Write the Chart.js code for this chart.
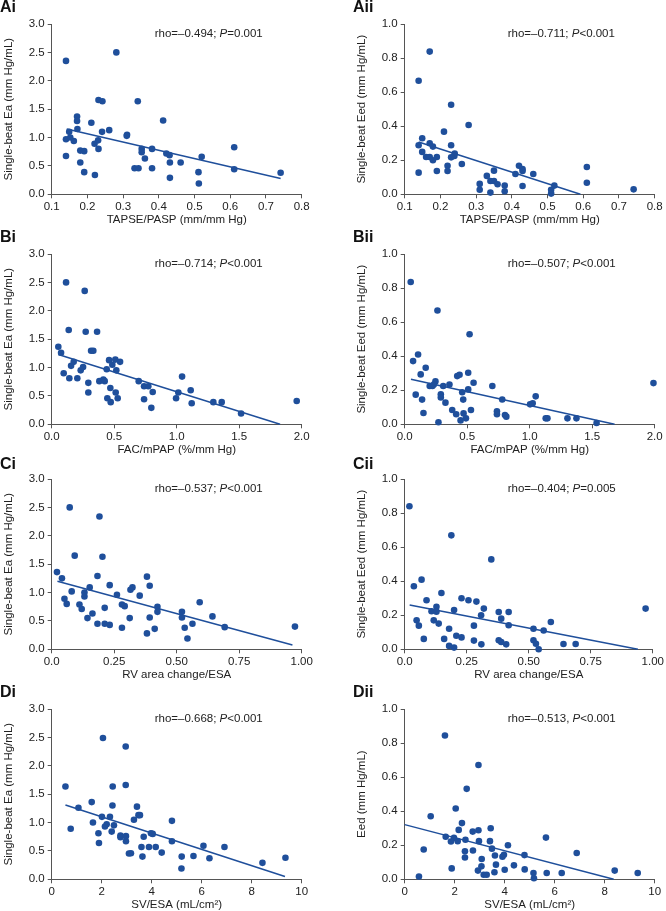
<!DOCTYPE html>
<html>
<head>
<meta charset="utf-8">
<script src="https://cdn.jsdelivr.net/npm/chart.js@4.4.0/dist/chart.umd.min.js"></script>
<style>
  body { margin: 0; background: #fff; width: 666px; height: 911px; overflow: hidden; position: relative; font-family: "Liberation Sans", Arial, sans-serif; }
  canvas { position: absolute; }
  .tag { position: absolute; font-weight: bold; font-size: 16px; line-height: 16px; color: #111; }
</style>
</head>
<body>
<script>
// Ai: TAPSE/PASP vs single-beat Ea
const aiX = [0.14, 0.281, 0.14, 0.14, 0.149, 0.152, 0.162, 0.171, 0.171, 0.172, 0.18, 0.18, 0.191, 0.191, 0.211, 0.22, 0.221, 0.231, 0.242, 0.23, 0.231, 0.241, 0.261, 0.311, 0.31, 0.341, 0.332, 0.343, 0.352, 0.352, 0.361, 0.381, 0.381, 0.412, 0.421, 0.43, 0.431, 0.431, 0.461, 0.511, 0.512, 0.52, 0.611, 0.611, 0.741];
const aiY = [2.35, 2.50, 0.97, 0.675, 1.10, 1.00, 0.94, 1.37, 1.29, 1.15, 0.77, 0.56, 0.76, 0.39, 1.26, 0.89, 0.34, 1.66, 1.64, 0.95, 0.80, 1.10, 1.13, 1.05, 1.03, 1.64, 0.46, 0.46, 0.80, 0.74, 0.63, 0.80, 0.46, 1.30, 0.72, 0.69, 0.56, 0.29, 0.56, 0.39, 0.19, 0.66, 0.83, 0.44, 0.38];
const aiFitX = [0.142, 0.741];
const aiFitY = [1.15, 0.28];

// Aii: TAPSE/PASP vs single-beat Eed
const aiiX = [0.17, 0.139, 0.23, 0.279, 0.21, 0.149, 0.139, 0.17, 0.179, 0.23, 0.149, 0.24, 0.239, 0.23, 0.16, 0.17, 0.19, 0.179, 0.22, 0.22, 0.19, 0.139, 0.26, 0.33, 0.35, 0.31, 0.31, 0.34, 0.35, 0.36, 0.38, 0.38, 0.34, 0.42, 0.41, 0.43, 0.43, 0.43, 0.46, 0.51, 0.51, 0.519, 0.61, 0.61, 0.741];
const aiiY = [0.838, 0.667, 0.526, 0.407, 0.368, 0.329, 0.288, 0.30, 0.28, 0.288, 0.249, 0.239, 0.225, 0.217, 0.219, 0.219, 0.219, 0.20, 0.168, 0.137, 0.137, 0.127, 0.178, 0.108, 0.139, 0.061, 0.027, 0.078, 0.078, 0.059, 0.051, 0.018, 0.01, 0.168, 0.119, 0.149, 0.137, 0.049, 0.119, 0.027, 0.004, 0.051, 0.16, 0.068, 0.029];
const aiiFitX = [0.139, 0.592];
const aiiFitY = [0.307, 0];

// Bi: FAC/mPAP vs single-beat Ea
const biX = [0.115, 0.264, 0.136, 0.272, 0.363, 0.053, 0.075, 0.315, 0.333, 0.096, 0.141, 0.155, 0.176, 0.205, 0.232, 0.251, 0.293, 0.293, 0.381, 0.413, 0.424, 0.44, 0.459, 0.485, 0.509, 0.517, 0.547, 0.469, 0.445, 0.472, 0.512, 0.528, 0.696, 0.739, 0.773, 0.739, 0.808, 0.797, 0.995, 1.013, 1.043, 1.112, 1.12, 1.293, 1.36, 1.515, 1.96];
const biY = [2.50, 2.35, 1.66, 1.63, 1.63, 1.365, 1.26, 1.295, 1.295, 0.90, 0.81, 1.03, 1.10, 0.81, 0.95, 1.01, 0.73, 0.56, 0.76, 0.79, 0.76, 0.97, 1.13, 1.05, 1.14, 0.95, 1.10, 0.64, 0.46, 0.39, 0.56, 0.46, 0.76, 0.67, 0.67, 0.44, 0.57, 0.29, 0.46, 0.56, 0.84, 0.60, 0.37, 0.39, 0.39, 0.19, 0.41];
const biFitX = [0.053, 1.827];
const biFitY = [1.23, 0];

// Bii: FAC/mPAP vs single-beat Eed
const biiX = [0.048, 0.262, 0.519, 0.067, 0.107, 0.128, 0.088, 0.139, 0.15, 0.168, 0.2, 0.222, 0.246, 0.233, 0.27, 0.289, 0.289, 0.308, 0.326, 0.358, 0.38, 0.412, 0.42, 0.439, 0.447, 0.46, 0.468, 0.471, 0.49, 0.508, 0.508, 0.53, 0.551, 0.701, 0.738, 0.738, 0.78, 0.802, 0.813, 1.003, 1.024, 1.048, 1.128, 1.142, 1.302, 1.374, 1.535, 1.99];
const biiY = [0.836, 0.668, 0.529, 0.371, 0.41, 0.293, 0.174, 0.145, 0.066, 0.332, 0.225, 0.225, 0.252, 0.234, 0.012, 0.176, 0.158, 0.225, 0.127, 0.234, 0.084, 0.059, 0.283, 0.291, 0.023, 0.188, 0.145, 0.064, 0.035, 0.303, 0.205, 0.084, 0.244, 0.225, 0.076, 0.059, 0.146, 0.055, 0.045, 0.117, 0.123, 0.164, 0.035, 0.035, 0.035, 0.035, 0.008, 0.242];
const biiFitX = [0.05, 1.679];
const biiFitY = [0.264, 0];

// Ci: RV area change/ESA vs single-beat Ea
const ciX = [0.072, 0.191, 0.092, 0.203, 0.021, 0.041, 0.183, 0.381, 0.392, 0.232, 0.152, 0.323, 0.315, 0.08, 0.131, 0.131, 0.261, 0.352, 0.051, 0.06, 0.111, 0.12, 0.212, 0.281, 0.292, 0.143, 0.163, 0.183, 0.212, 0.232, 0.281, 0.312, 0.381, 0.392, 0.412, 0.423, 0.423, 0.521, 0.521, 0.532, 0.543, 0.563, 0.592, 0.643, 0.692, 0.973];
const ciY = [2.50, 2.34, 1.65, 1.63, 1.36, 1.25, 1.29, 1.28, 1.12, 1.13, 1.09, 1.09, 1.05, 1.02, 1.00, 0.93, 0.96, 0.945, 0.89, 0.80, 0.79, 0.71, 0.73, 0.79, 0.76, 0.55, 0.63, 0.45, 0.45, 0.43, 0.38, 0.55, 0.28, 0.56, 0.36, 0.75, 0.66, 0.66, 0.56, 0.38, 0.19, 0.45, 0.83, 0.58, 0.39, 0.40];
const ciFitX = [0.023, 0.963];
const ciFitY = [1.20, 0.076];

// Cii: RV area change/ESA vs single-beat Eed
const ciiX = [0.019, 0.188, 0.349, 0.068, 0.037, 0.148, 0.229, 0.257, 0.289, 0.088, 0.128, 0.108, 0.128, 0.199, 0.319, 0.379, 0.419, 0.048, 0.117, 0.308, 0.389, 0.057, 0.137, 0.279, 0.419, 0.179, 0.519, 0.56, 0.589, 0.077, 0.159, 0.208, 0.229, 0.279, 0.379, 0.389, 0.409, 0.309, 0.519, 0.529, 0.179, 0.199, 0.54, 0.64, 0.689, 0.971];
const ciiY = [0.84, 0.669, 0.528, 0.409, 0.37, 0.331, 0.30, 0.288, 0.28, 0.288, 0.25, 0.223, 0.221, 0.231, 0.239, 0.219, 0.219, 0.17, 0.17, 0.20, 0.18, 0.139, 0.151, 0.139, 0.141, 0.121, 0.121, 0.11, 0.16, 0.061, 0.061, 0.08, 0.07, 0.051, 0.053, 0.043, 0.029, 0.029, 0.053, 0.033, 0.02, 0.01, 0.0, 0.031, 0.031, 0.239];
const ciiFitX = [0.02, 0.94];
const ciiFitY = [0.26, 0];

// Di: SV/ESA vs single-beat Ea
const diX = [2.05, 2.96, 0.55, 2.44, 2.96, 1.6, 1.07, 2.43, 3.41, 3.47, 3.53, 2.01, 2.33, 4.81, 3.29, 1.65, 0.76, 2.2, 2.13, 2.49, 1.87, 2.4, 2.75, 2.75, 2.97, 2.97, 1.89, 3.68, 3.97, 4.04, 4.81, 3.59, 3.89, 4.16, 3.09, 3.17, 3.63, 4.4, 5.2, 5.19, 5.67, 6.07, 6.31, 6.91, 8.43, 9.35];
const diY = [2.49, 2.34, 1.635, 1.635, 1.66, 1.36, 1.26, 1.30, 1.28, 1.13, 1.13, 1.10, 1.10, 1.03, 1.05, 1.00, 0.89, 0.97, 0.93, 0.95, 0.81, 0.84, 0.77, 0.74, 0.76, 0.67, 0.64, 0.75, 0.81, 0.80, 0.67, 0.57, 0.57, 0.57, 0.455, 0.46, 0.40, 0.47, 0.40, 0.19, 0.41, 0.59, 0.37, 0.57, 0.29, 0.38];
const diFitX = [0.55, 9.33];
const diFitY = [1.31, 0.05];

// Dii: SV/ESA vs Eed
const diiX = [1.61, 2.95, 2.48, 2.04, 1.04, 2.29, 3.44, 2.16, 2.95, 2.72, 1.64, 5.65, 1.97, 2.43, 1.85, 2.12, 2.97, 3.41, 4.13, 3.49, 0.76, 2.41, 2.73, 6.88, 3.61, 3.91, 3.97, 4.79, 2.41, 3.08, 3.65, 4.37, 3.07, 1.88, 2.93, 4.0, 4.8, 3.59, 8.4, 5.15, 5.68, 6.28, 9.32, 3.16, 3.28, 0.57, 5.17];
const diiY = [0.844, 0.671, 0.531, 0.416, 0.37, 0.33, 0.30, 0.29, 0.288, 0.28, 0.25, 0.245, 0.243, 0.232, 0.222, 0.224, 0.224, 0.224, 0.20, 0.18, 0.175, 0.165, 0.169, 0.154, 0.14, 0.132, 0.144, 0.142, 0.128, 0.119, 0.086, 0.082, 0.076, 0.064, 0.051, 0.056, 0.058, 0.041, 0.051, 0.037, 0.037, 0.037, 0.037, 0.027, 0.027, 0.016, 0.006];
const diiFitX = [0, 8.36];
const diiFitY = [0.321, 0];

// tick values and labels
const tapseTicks = [0.1, 0.2, 0.3, 0.4, 0.5, 0.6, 0.7, 0.8];
const tapseLabels = ['0.1', '0.2', '0.3', '0.4', '0.5', '0.6', '0.7', '0.8'];
const facTicks = [0, 0.5, 1, 1.5, 2];
const facLabels = ['0.0', '0.5', '1.0', '1.5', '2.0'];
const rvTicks = [0, 0.25, 0.5, 0.75, 1];
const rvLabels = ['0.0', '0.25', '0.50', '0.75', '1.00'];
const svTicks = [0, 2, 4, 6, 8, 10];
const svLabels = ['0', '2', '4', '6', '8', '10'];
const eaTicks = [0, 0.5, 1, 1.5, 2, 2.5, 3];
const eaLabels = ['0.0', '0.5', '1.0', '1.5', '2.0', '2.5', '3.0'];
const eedTicks = [0, 0.2, 0.4, 0.6, 0.8, 1];
const eedLabels = ['0.0', '0.2', '0.4', '0.6', '0.8', '1.0'];

const BLUE = '#1f4f9b';
const AXIS = '#555';
const TEXT = '#222';
const FAMILY = '"Liberation Sans", Arial, sans-serif';

const colLeft = [0, 353];
const colWidth = [333, 313];
const rowTop = [0, 230, 455, 685];
const tagTop = [-1, 229, 456, 684];

const panels = [
  { tag: 'Ai', col: 0, row: 0, x: aiX, y: aiY, fx: aiFitX, fy: aiFitY, xt: tapseTicks, xl: tapseLabels, yt: eaTicks, yl: eaLabels, xTitle: 'TAPSE/PASP (mm/mm Hg)', yTitle: 'Single-beat Ea (mm Hg/mL)', rho: 'rho=–0.494; ', p: '=0.001' },
  { tag: 'Aii', col: 1, row: 0, x: aiiX, y: aiiY, fx: aiiFitX, fy: aiiFitY, xt: tapseTicks, xl: tapseLabels, yt: eedTicks, yl: eedLabels, xTitle: 'TAPSE/PASP (mm/mm Hg)', yTitle: 'Single-beat Eed (mm Hg/mL)', rho: 'rho=–0.711; ', p: '<0.001' },
  { tag: 'Bi', col: 0, row: 1, x: biX, y: biY, fx: biFitX, fy: biFitY, xt: facTicks, xl: facLabels, yt: eaTicks, yl: eaLabels, xTitle: 'FAC/mPAP (%/mm Hg)', yTitle: 'Single-beat Ea (mm Hg/mL)', rho: 'rho=–0.714; ', p: '<0.001' },
  { tag: 'Bii', col: 1, row: 1, x: biiX, y: biiY, fx: biiFitX, fy: biiFitY, xt: facTicks, xl: facLabels, yt: eedTicks, yl: eedLabels, xTitle: 'FAC/mPAP (%/mm Hg)', yTitle: 'Single-beat Eed (mm Hg/mL)', rho: 'rho=–0.507; ', p: '<0.001' },
  { tag: 'Ci', col: 0, row: 2, x: ciX, y: ciY, fx: ciFitX, fy: ciFitY, xt: rvTicks, xl: rvLabels, yt: eaTicks, yl: eaLabels, xTitle: 'RV area change/ESA', yTitle: 'Single-beat Ea (mm Hg/mL)', rho: 'rho=–0.537; ', p: '<0.001' },
  { tag: 'Cii', col: 1, row: 2, x: ciiX, y: ciiY, fx: ciiFitX, fy: ciiFitY, xt: rvTicks, xl: rvLabels, yt: eedTicks, yl: eedLabels, xTitle: 'RV area change/ESA', yTitle: 'Single-beat Eed (mm Hg/mL)', rho: 'rho=–0.404; ', p: '=0.005' },
  { tag: 'Di', col: 0, row: 3, x: diX, y: diY, fx: diFitX, fy: diFitY, xt: svTicks, xl: svLabels, yt: eaTicks, yl: eaLabels, xTitle: 'SV/ESA (mL/cm²)', yTitle: 'Single-beat Ea (mm Hg/mL)', rho: 'rho=–0.668; ', p: '<0.001' },
  { tag: 'Dii', col: 1, row: 3, x: diiX, y: diiY, fx: diiFitX, fy: diiFitY, xt: svTicks, xl: svLabels, yt: eedTicks, yl: eedLabels, xTitle: 'SV/ESA (mL/cm²)', yTitle: 'Eed (mm Hg/mL)', rho: 'rho=–0.513, ', p: '<0.001' }
];

const zip = (xs, ys) => xs.map((v, i) => ({ x: v, y: ys[i] }));

// rho / P annotation, with italic P
const rhoPlugin = (p) => ({
  id: 'rho' + p.tag,
  afterDraw(chart) {
    const { ctx, chartArea } = chart;
    let x = chartArea.left + 103;
    const y = chartArea.top + 9.5;
    ctx.save();
    ctx.fillStyle = TEXT;
    ctx.textBaseline = 'middle';
    [[p.rho, false], ['P', true], [p.p, false]].forEach(([txt, italic]) => {
      ctx.font = (italic ? 'italic ' : '') + '11.5px ' + FAMILY;
      ctx.fillText(txt, x, y);
      x += ctx.measureText(txt).width;
    });
    ctx.restore();
  }
});

const axis = (ticks, labels, title, horizontal) => ({
  type: 'linear',
  min: ticks[0],
  max: ticks[ticks.length - 1],
  afterBuildTicks: s => { s.ticks = ticks.map(v => ({ value: v })); },
  afterFit: s => { if (horizontal) s.height = 33.7; else s.width = 51.7; },
  ticks: {
    callback: (v, i) => labels[i],
    font: { family: FAMILY, size: 11.5 },
    color: TEXT,
    padding: horizontal ? 2 : 3,
    maxRotation: 0,
    autoSkip: false
  },
  grid: { drawOnChartArea: false, drawTicks: true, tickLength: 4, color: AXIS },
  border: { display: true, color: AXIS, width: 1 },
  title: {
    display: true,
    text: title,
    color: TEXT,
    font: { family: FAMILY, size: 11.5 },
    padding: horizontal ? { top: 0, bottom: 1 } : { top: 2, bottom: 0 }
  }
});

panels.forEach(p => {
  const tag = document.createElement('div');
  tag.className = 'tag';
  tag.textContent = p.tag;
  tag.style.left = colLeft[p.col] + 'px';
  tag.style.top = tagTop[p.row] + 'px';

  const canvas = document.createElement('canvas');
  canvas.width = colWidth[p.col];
  canvas.height = 228;
  canvas.style.left = colLeft[p.col] + 'px';
  canvas.style.top = rowTop[p.row] + 'px';
  document.body.appendChild(canvas);
  document.body.appendChild(tag);

  new Chart(canvas, {
    type: 'scatter',
    data: {
      datasets: [
        { data: zip(p.x, p.y), backgroundColor: BLUE, borderWidth: 0, pointRadius: 3.3, clip: false },
        { data: zip(p.fx, p.fy), showLine: true, borderColor: BLUE, borderWidth: 1.5, pointRadius: 0, clip: false }
      ]
    },
    options: {
      responsive: false,
      animation: false,
      layout: { padding: { top: 24, right: p.col === 0 ? 31.3 : 11.3, left: 0, bottom: 0 } },
      plugins: { legend: { display: false }, tooltip: { enabled: false } },
      scales: {
        x: axis(p.xt, p.xl, p.xTitle, true),
        y: axis(p.yt, p.yl, p.yTitle, false)
      }
    },
    plugins: [rhoPlugin(p)]
  });
});
</script>
</body>
</html>
